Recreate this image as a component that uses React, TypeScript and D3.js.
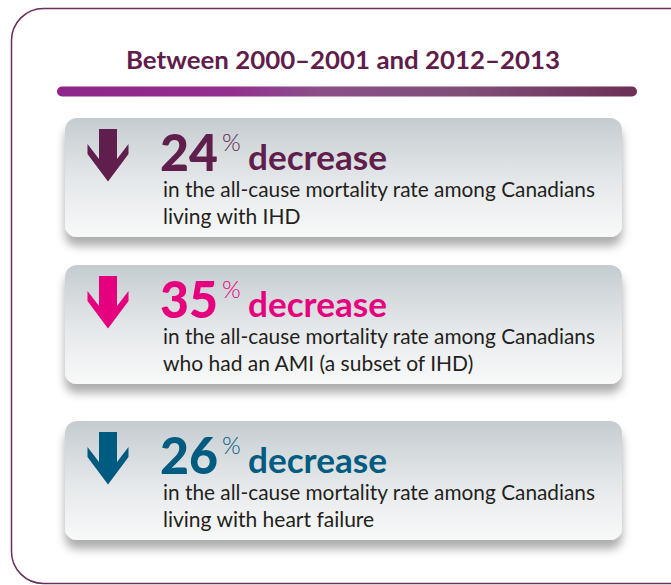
import React from 'react';
import * as d3 from 'd3';

const TITLE = 'Between 2000\u20132001 and 2012\u20132013';
const categories = ['IHD', 'AMI', 'HF'];
const decreasePct = [24, 35, 26];
const line1 = [
  'in the all-cause mortality rate among Canadians',
  'in the all-cause mortality rate among Canadians',
  'in the all-cause mortality rate among Canadians',
];
const line2 = ['living with IHD', 'who had an AMI (a subset of IHD)', 'living with heart failure'];
const accentColors = ['#5f1e4c', '#e5007e', '#005b80'];

// layout
const W = 671;
const H = 585;
const CARD_TOPS = [118, 265, 421];
const CARD_H = 119;
const CARD_X = 65;
const CARD_W = 557;
const FONT = 'Lato, "Open Sans", sans-serif';

const arrowPath = (cx: number, y0: number) => {
  const pts: [number, number][] = [
    [cx - 9, y0],
    [cx + 9, y0],
    [cx + 9, y0 + 30],
    [cx + 20.5, y0 + 15],
    [cx + 20.5, y0 + 25],
    [cx, y0 + 52.5],
    [cx - 20.5, y0 + 25],
    [cx - 20.5, y0 + 15],
    [cx - 9, y0 + 30],
  ];
  return d3.line()(pts) + 'Z';
};

const App = () => {
  const top = d3.scaleOrdinal<string, number>().domain(categories).range(CARD_TOPS);
  const color = d3.scaleOrdinal<string, string>().domain(categories).range(accentColors);

  return (
    <svg width={W} height={H} style={{ position: 'absolute', left: 0, top: 0, background: '#fff' }}>
      <defs>
        <linearGradient id="bar" x1="0" x2="1" y1="0" y2="0">
          <stop offset="0" stopColor="#8f2389" />
          <stop offset="0.3" stopColor="#93308f" />
          <stop offset="0.45" stopColor="#8b4f89" />
          <stop offset="0.7" stopColor="#7f4f78" />
          <stop offset="1" stopColor="#6c2f57" />
        </linearGradient>
        <linearGradient id="card" x1="0" x2="0" y1="0" y2="1">
          <stop offset="0" stopColor="#c5ccd0" />
          <stop offset="0.55" stopColor="#e6e9eb" />
          <stop offset="1" stopColor="#f8f9f9" />
        </linearGradient>
        <filter id="shadow" x="-10%" y="-20%" width="120%" height="150%">
          <feDropShadow dx="0" dy="9" stdDeviation="5" floodColor="#000" floodOpacity="0.32" />
        </filter>
      </defs>

      <rect x={11.5} y={8.5} width={700} height={575} rx={32} fill="none" stroke="#6b2d5c" strokeWidth={1.5} />

      <text
        x={343}
        y={69}
        textAnchor="middle"
        fontFamily={FONT}
        fontWeight={700}
        fontSize={25}
        fill="#5f1d4b"
        textLength={434}
        lengthAdjust="spacingAndGlyphs"
      >
        {TITLE}
      </text>

      <rect x={57} y={86.5} width={580} height={10} rx={5} fill="url(#bar)" />

      {categories.map((c, i) => {
        const y = top(c);
        const col = color(c);
        return (
          <g key={c}>
            <rect x={CARD_X} y={y} width={CARD_W} height={CARD_H} rx={12} fill="url(#card)" filter="url(#shadow)" />
            <path d={arrowPath(108, y + 11)} fill={col} />
            <text x={160} y={y + 53} fontFamily={FONT} fontWeight={900} fontSize={52} fill={col} textLength={58} lengthAdjust="spacingAndGlyphs">
              {decreasePct[i]}
            </text>
            <text x={222} y={y + 33} fontFamily={FONT} fontWeight={300} fontSize={24} fill={col}>
              %
            </text>
            <text x={248} y={y + 52} fontFamily={FONT} fontWeight={700} fontSize={34} fill={col} textLength={139} lengthAdjust="spacingAndGlyphs">
              decrease
            </text>
            <text x={163} y={y + 79} fontFamily={FONT} fontSize={21} fill="#231f20" textLength={432} lengthAdjust="spacingAndGlyphs">
              {line1[i]}
            </text>
            <text x={163} y={y + 106} fontFamily={FONT} fontSize={21} fill="#231f20">
              {line2[i]}
            </text>
          </g>
        );
      })}
    </svg>
  );
};

export default App;
